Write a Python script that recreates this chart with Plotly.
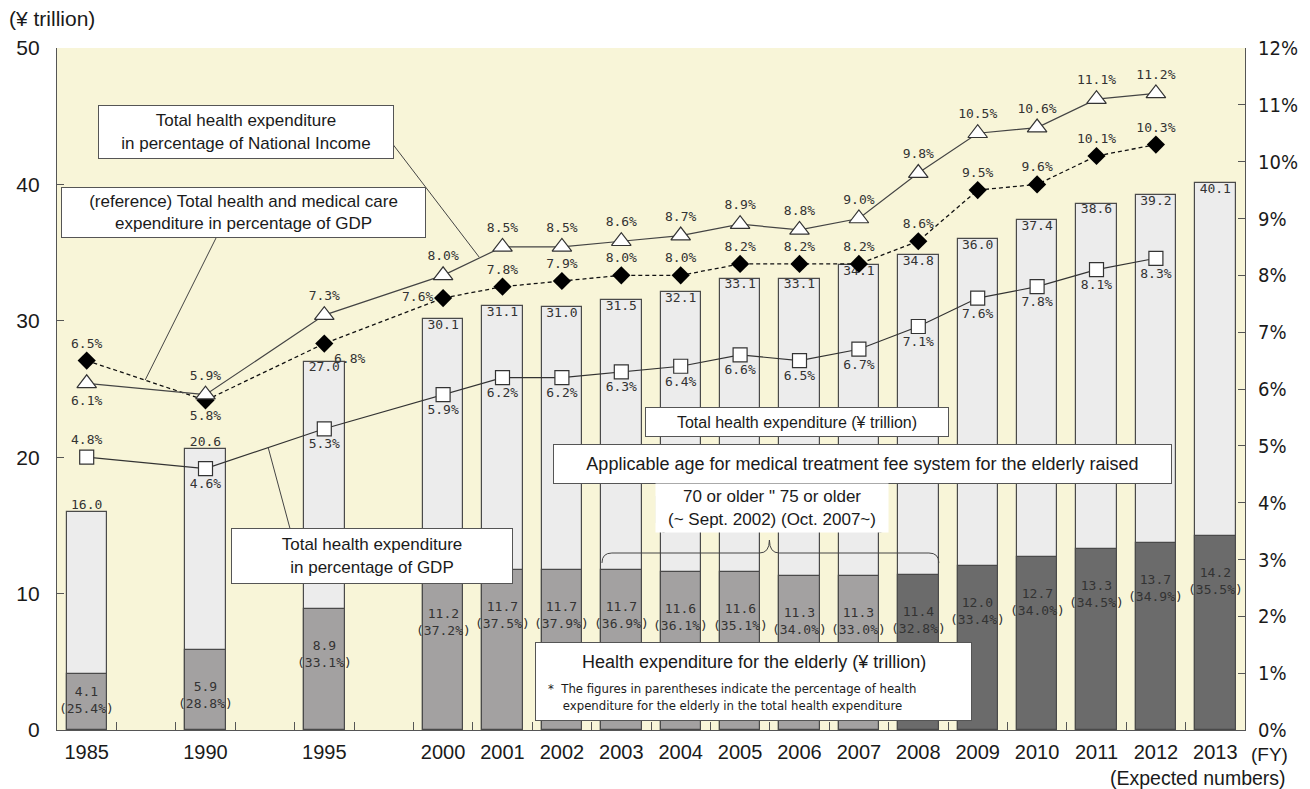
import plotly.graph_objects as go

# Fiscal years shown on the category axis
years = [1985, 1990, 1995, 2000, 2001, 2002, 2003, 2004, 2005, 2006, 2007,
         2008, 2009, 2010, 2011, 2012, 2013]

# Total health expenditure (¥ trillion)
total_exp = [16.0, 20.6, 27.0, 30.1, 31.1, 31.0, 31.5, 32.1, 33.1, 33.1, 34.1,
             34.8, 36.0, 37.4, 38.6, 39.2, 40.1]

# Health expenditure for the elderly (¥ trillion) and its share of the total (%)
elderly_exp = [4.1, 5.9, 8.9, 11.2, 11.7, 11.7, 11.7, 11.6, 11.6, 11.3, 11.3,
               11.4, 12.0, 12.7, 13.3, 13.7, 14.2]
elderly_share = [25.4, 28.8, 33.1, 37.2, 37.5, 37.9, 36.9, 36.1, 35.1, 34.0, 33.0,
                 32.8, 33.4, 34.0, 34.5, 34.9, 35.5]

# Ratios (%), 1985-2012
gdp_share = [4.8, 4.6, 5.3, 5.9, 6.2, 6.2, 6.3, 6.4, 6.6, 6.5, 6.7,
             7.1, 7.6, 7.8, 8.1, 8.3]
ni_share = [6.1, 5.9, 7.3, 8.0, 8.5, 8.5, 8.6, 8.7, 8.9, 8.8, 9.0,
            9.8, 10.5, 10.6, 11.1, 11.2]
ref_gdp_share = [6.5, 5.8, 6.8, 7.6, 7.8, 7.9, 8.0, 8.0, 8.2, 8.2, 8.2,
                 8.6, 9.5, 9.6, 10.1, 10.3]


def slot(year):
    # five-year steps before 2000 take two slots each (bar + blank)
    return (year - 1985) // 5 * 2 if year < 2000 else 6 + (year - 2000)


xs = [slot(y) for y in years]
xl = xs[:len(gdp_share)]

# ---- styling -------------------------------------------------------------
MONO = "DejaVu Sans Mono, Liberation Mono, monospace"
SANS = "Liberation Sans, Arial, sans-serif"
NARROW = "DejaVu Sans Condensed, Liberation Sans Narrow, Liberation Sans, sans-serif"
LBL = dict(family=MONO, size=13, color="#333333")
EDGE = "#4a4a4a"
INK = "#1a1a1a"
BAR_W = 0.68

elderly_colors = ["#a3a1a1" if y < 2008 else "#6b6b6b" for y in years]
total_pos = ["top center" if y < 1995 else "bottom center" for y in years]
gdp_pos = ["top center"] + ["bottom center"] * (len(gdp_share) - 1)
ni_pos = ["bottom center"] + ["top center"] * (len(ni_share) - 1)
ref_pos = ["top center", "bottom center", "bottom right", "middle left"] + \
          ["top center"] * (len(ref_gdp_share) - 4)

# plot-area frame in page pixels, used to place the call-out boxes
L, R, T, B = 57, 1256, 48, 730


def fx(p):
    return (p - L) / (R - L)


def fy(p):
    return (B - p) / (B - T)


fig = go.Figure()

fig.add_trace(go.Bar(
    x=xs, y=total_exp, width=BAR_W,
    marker=dict(color="#ececec", line=dict(color=EDGE, width=1.2)),
    hoverinfo="skip"))
fig.add_trace(go.Bar(
    x=xs, y=elderly_exp, width=BAR_W,
    marker=dict(color=elderly_colors, line=dict(color=EDGE, width=1.2)),
    hoverinfo="skip"))
fig.add_trace(go.Scatter(
    x=xs, y=total_exp, mode="text", text=[f"{v:.1f}" for v in total_exp],
    textposition=total_pos, textfont=LBL, hoverinfo="skip"))

fig.add_trace(go.Scatter(
    x=xl, y=ref_gdp_share, yaxis="y2", mode="lines+markers+text",
    line=dict(color="#111111", width=1.3, dash="4px,3px"),
    marker=dict(symbol="diamond", size=14, color="#000000"),
    text=[f"{v:.1f}%" for v in ref_gdp_share], textposition=ref_pos,
    textfont=LBL, hoverinfo="skip"))
fig.add_trace(go.Scatter(
    x=xl, y=ni_share, yaxis="y2", mode="lines+markers+text",
    line=dict(color="#444444", width=1.2),
    marker=dict(symbol="triangle-up", size=17, color="white",
                line=dict(color="#333333", width=1.2)),
    text=[f"{v:.1f}%" for v in ni_share], textposition=ni_pos,
    textfont=LBL, hoverinfo="skip"))
fig.add_trace(go.Scatter(
    x=xl, y=gdp_share, yaxis="y2", mode="lines+markers+text",
    line=dict(color="#333333", width=1.2),
    marker=dict(symbol="square", size=14, color="white",
                line=dict(color="#333333", width=1.2)),
    text=[f"{v:.1f}%" for v in gdp_share], textposition=gdp_pos,
    textfont=LBL, hoverinfo="skip"))

annotations = []

# elderly amount and share written inside the darker bars
for xv, e, s, y in zip(xs, elderly_exp, elderly_share, years):
    annotations.append(dict(
        x=xv, y=e, xref="x", yref="y", text=f"{e:.1f}<br>({s:.1f}%)",
        showarrow=False, yanchor="top", yshift=-8 if y == 1985 else -27,
        font=LBL))


def box(cx, cy, w, h, text, size, border=True, font=SANS):
    return dict(
        x=fx(cx), y=fy(cy), xref="paper", yref="paper", xanchor="center",
        yanchor="middle", text=text, showarrow=False, width=w, height=h,
        bgcolor="white", bordercolor="#555555" if border else "rgba(0,0,0,0)",
        borderwidth=1, borderpad=0, font=dict(family=font, size=size, color=INK))


def caption(px, py, text, size, anchor="center", font=SANS, align="center"):
    return dict(x=fx(px), y=fy(py), xref="paper", yref="paper", showarrow=False,
                xanchor=anchor, yanchor="middle", align=align, text=text,
                font=dict(family=font, size=size, color=INK))


annotations += [
    box(247.5, 131.5, 294, 52,
        "Total health expenditure<br>in percentage of National Income", 17),
    box(245, 212, 363, 49,
        "(reference) Total health and medical care<br>expenditure in percentage of GDP", 17),
    box(374.5, 555.5, 280, 54,
        "Total health expenditure<br>in percentage of GDP", 17),
    box(803.5, 422.5, 302, 28, "Total health expenditure (¥ trillion)", 16),
    box(870, 463.5, 617, 38,
        "Applicable age for medical treatment fee system for the elderly raised", 18),
    box(778.5, 507.5, 232, 48,
        "70 or older \" 75 or older<br>(~ Sept. 2002) (Oct. 2007~)", 17, border=False),
    box(760, 681, 435, 77, " ", 12),
    caption(760, 662, "Health expenditure for the elderly (¥ trillion)", 18),
    caption(551, 697,
            "*  The figures in parentheses indicate the percentage of health<br>"
            "    expenditure for the elderly in the total health expenditure",
            13, anchor="left", font=NARROW, align="left"),
    # axis captions
    caption(7, 18, "(¥ trillion)", 21, anchor="left"),
    caption(1301, 754, "(FY)", 19, anchor="right"),
    caption(1299, 778, "(Expected numbers)", 19.5, anchor="right"),
]


def path(points):
    # points: list of ("M"/"L"/"Q", coords...) in page pixels
    out = []
    for cmd, *pts in points:
        conv = []
        for i in range(0, len(pts), 2):
            conv.append(f"{fx(pts[i]):.5f},{fy(pts[i + 1]):.5f}")
        out.append(cmd + " " + " ".join(conv))
    return " ".join(out)


def leader(x0, y0, x1, y1):
    return dict(type="line", xref="paper", yref="paper", x0=fx(x0), y0=fy(y0),
                x1=fx(x1), y1=fy(y1), line=dict(color="#444444", width=1))


shapes = [
    leader(395, 143, 483, 257),
    leader(218, 237, 146, 380),
    leader(292, 528, 270, 447),
    # brace spanning the 2003-2008 bars
    dict(type="path", xref="paper", yref="paper", line=dict(color="#444444", width=1),
         path=path([("M", 607, 563), ("Q", 607, 553, 617, 553), ("L", 766, 553),
                    ("Q", 776, 553, 776, 540), ("Q", 776, 553, 786, 553),
                    ("L", 937, 553), ("Q", 947, 553, 947, 563)])),
    # round brackets around the age note
    dict(type="path", xref="paper", yref="paper", line=dict(color="#444444", width=1),
         path=path([("M", 670, 487), ("Q", 662, 487, 662, 496), ("L", 662, 523),
                    ("Q", 662, 532, 670, 532)])),
    dict(type="path", xref="paper", yref="paper", line=dict(color="#444444", width=1),
         path=path([("M", 887, 487), ("Q", 895, 487, 895, 496), ("L", 895, 523),
                    ("Q", 895, 532, 887, 532)])),
]

axis_font = dict(family=SANS, size=21, color=INK)

fig.update_layout(
    width=1310, height=789,
    margin=dict(l=L, r=1310 - R, t=T, b=789 - B),
    paper_bgcolor="white", plot_bgcolor="#f8f5d8",
    barmode="overlay", bargap=0, showlegend=False,
    annotations=annotations, shapes=shapes,
    xaxis=dict(
        range=[-0.5, 19.5], tickmode="array", tickvals=xs,
        ticktext=[str(y) for y in years], ticks="", showgrid=False, zeroline=False,
        showline=True, linecolor="#555555", linewidth=1.2,
        tickfont=dict(family=SANS, size=20, color=INK), ticklabelstandoff=4,
        minor=dict(tickmode="array", tickvals=[k + 0.5 for k in range(19)],
                   ticks="inside", ticklen=8, tickcolor="#555555", tickwidth=1)),
    yaxis=dict(
        range=[0, 50], dtick=10, ticks="inside", ticklen=7, tickcolor="#555555",
        showline=True, linecolor="#555555", linewidth=1.2, showgrid=False,
        zeroline=False, tickfont=axis_font, ticklabelstandoff=12),
    yaxis2=dict(
        range=[0, 12], dtick=1, ticksuffix="%", overlaying="y", side="right",
        ticks="inside", ticklen=7, tickcolor="#555555", showline=True,
        linecolor="#555555", linewidth=1.2, showgrid=False, zeroline=False,
        tickfont=dict(family=NARROW, size=20, color=INK), ticklabelstandoff=8),
)

fig.write_html("out.html")
